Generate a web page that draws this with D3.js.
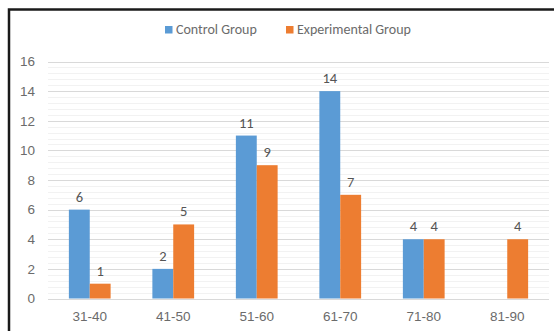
<!DOCTYPE html>
<html>
<head>
<meta charset="utf-8">
<script src="https://cdn.jsdelivr.net/npm/d3@7"></script>
<style>
  html, body { margin: 0; padding: 0; background: #fff; }
  svg { display: block; font-family: Carlito, Lato, "Open Sans", "Liberation Sans", sans-serif; }
</style>
</head>
<body>
<svg id="chart" width="554" height="331"></svg>
<script>
// Age groups and participant counts per group
const categories = ["31-40", "41-50", "51-60", "61-70", "71-80", "81-90"];
const controlGroup = [6, 2, 11, 14, 4, null];
const experimentalGroup = [1, 5, 9, 7, 4, 4];
const seriesNames = ["Control Group", "Experimental Group"];
const seriesColors = ["#5B9BD5", "#ED7D31"];
const yTicks = [0, 2, 4, 6, 8, 10, 12, 14, 16];

const svg = d3.select("#chart");
const plot = { left: 48, right: 549, top: 61.5, bottom: 298.5 };

// Outer chart frame (runs off the right and bottom edges)
svg.append("rect")
  .attr("x", 9).attr("y", 9.5)
  .attr("width", 600).attr("height", 400)
  .attr("fill", "none")
  .attr("stroke", "#1a1a1a")
  .attr("stroke-width", 2.5);

const x = d3.scaleBand().domain(categories).range([plot.left, plot.right]).paddingInner(0).paddingOuter(0);
const groupWidth = x.bandwidth() * 0.5;
const xSub = d3.scaleBand().domain(seriesNames).range([0, groupWidth]);
const y = d3.scaleLinear().domain([0, 16]).range([plot.bottom, plot.top]);

// Minor gridlines
const minor = d3.range(0, 16.01, 0.4).filter(v => Math.abs(v / 2 - Math.round(v / 2)) > 1e-6);
svg.append("g").selectAll("line").data(minor).join("line")
  .attr("x1", plot.left).attr("x2", plot.right)
  .attr("y1", d => Math.round(y(d)) + 0.5).attr("y2", d => Math.round(y(d)) + 0.5)
  .attr("stroke", "#F2F2F2").attr("stroke-width", 1);

// Major gridlines
svg.append("g").selectAll("line").data(yTicks).join("line")
  .attr("x1", plot.left).attr("x2", plot.right)
  .attr("y1", d => Math.round(y(d)) + 0.5).attr("y2", d => Math.round(y(d)) + 0.5)
  .attr("stroke", "#D9D9D9").attr("stroke-width", 1);

// Y axis labels
const yAxis = d3.axisLeft(y).tickValues(yTicks).tickSize(0).tickPadding(0);
const yG = svg.append("g").attr("transform", `translate(35,0)`).call(yAxis);
yG.select(".domain").remove();
yG.selectAll("text").attr("fill", "#6b6b6b").attr("font-size", "13.5px").attr("font-family", null);

// X axis labels
const xAxis = d3.axisBottom(x).tickSize(0).tickPadding(13);
const xG = svg.append("g").attr("transform", `translate(0,${plot.bottom})`).call(xAxis);
xG.select(".domain").remove();
xG.selectAll("text").attr("fill", "#6b6b6b").attr("font-size", "13.5px").attr("font-family", null);

// Bars
const data = categories.map((c, i) => ({
  cat: c,
  values: [
    { name: seriesNames[0], v: controlGroup[i], color: seriesColors[0] },
    { name: seriesNames[1], v: experimentalGroup[i], color: seriesColors[1] }
  ]
}));

const groups = svg.append("g").selectAll("g").data(data).join("g")
  .attr("transform", d => `translate(${x(d.cat) + (x.bandwidth() - groupWidth) / 2},0)`);

groups.selectAll("rect").data(d => d.values.filter(s => s.v != null && s.v > 0)).join("rect")
  .attr("x", d => xSub(d.name))
  .attr("width", xSub.bandwidth())
  .attr("y", d => y(d.v))
  .attr("height", d => y(0) - y(d.v))
  .attr("fill", d => d.color);

groups.selectAll("text").data(d => d.values.filter(s => s.v != null)).join("text")
  .attr("x", d => xSub(d.name) + xSub.bandwidth() / 2)
  .attr("y", d => y(d.v) - 8)
  .attr("text-anchor", "middle")
  .attr("fill", "#555555")
  .attr("font-size", "14.5px")
  .text(d => d.v);

// Baseline
svg.append("line")
  .attr("x1", plot.left).attr("x2", plot.right)
  .attr("y1", Math.round(y(0)) + 0.5).attr("y2", Math.round(y(0)) + 0.5)
  .attr("stroke", "#D9D9D9");

// Legend
const legendItems = [
  { name: seriesNames[0], color: seriesColors[0], x: 165 },
  { name: seriesNames[1], color: seriesColors[1], x: 286 }
];
const lg = svg.append("g").selectAll("g").data(legendItems).join("g")
  .attr("transform", d => `translate(${d.x},26)`);
lg.append("rect").attr("width", 7.5).attr("height", 7.5).attr("fill", d => d.color);
lg.append("text").attr("x", 11).attr("y", 8)
  .attr("fill", "#6b6b6b").attr("font-size", "14px")
  .text(d => d.name);
</script>
</body>
</html>
